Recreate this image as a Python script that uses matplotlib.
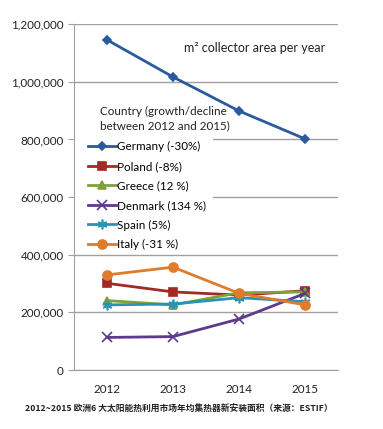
import matplotlib.pyplot as plt
from matplotlib.patches import Rectangle
import numpy as np

years = ['2012', '2013', '2014', '2015']
germany = [1146000, 1017000, 899000, 802000]
poland = [301000, 271000, 260000, 275000]
greece = [241000, 226000, 268000, 271000]
denmark = [113000, 116000, 177000, 266000]
spain = [226000, 229000, 251000, 237000]
italy = [330000, 357000, 266000, 226000]

labels = ['Germany (-30%)', 'Poland (-8%)', 'Greece (12 %)',
          'Denmark (134 %)', 'Spain (5%)', 'Italy (-31 %)']
series = [germany, poland, greece, denmark, spain, italy]
colors = ['#2a5a9e', '#a12a26', '#7da23a', '#5e3a8c', '#2a93b4', '#e07b2a']
markers = ['D', 's', '^', 'x', (6, 2, 0), 'o']
msizes = [4.5, 5.5, 6, 6.5, 7, 6.5]

plt.rcParams['font.family'] = ['Lato', 'DejaVu Sans']
fs = 8.4

fig = plt.figure(figsize=(3.83, 4.29), dpi=100)
ax = fig.add_axes([0.193, 0.1375, 0.69, 0.806])

x = np.arange(len(years))
for vals, lab, c, m, ms in zip(series, labels, colors, markers, msizes):
    ax.plot(x, vals, color=c, marker=m, markersize=ms, linewidth=2,
            markeredgewidth=1.2, label=lab, zorder=3)

ax.set_xlim(-0.5, 3.5)
ax.set_ylim(0, 1200000)
ax.set_yticks(np.arange(0, 1200001, 200000))
ax.set_yticklabels([f'{v:,}' for v in range(0, 1200001, 200000)])
ax.set_xticks(x)
ax.set_xticklabels(years)
ax.grid(axis='y', color='#a0a0a0', linewidth=1)
ax.set_axisbelow(True)
for s in ['top', 'right']:
    ax.spines[s].set_visible(False)
ax.spines['left'].set_color('#a0a0a0')
ax.spines['bottom'].set_color('#a0a0a0')
ax.tick_params(axis='y', colors='#a0a0a0', labelcolor='#222222', labelsize=fs, length=4)
ax.tick_params(axis='x', length=0, labelcolor='#222222', labelsize=fs, pad=10)

ax.text(0.415, 0.93, 'm² collector area per year', transform=ax.transAxes,
        fontsize=9, color='#222222', va='center')

# white legend box (covers gridlines behind title and entries)
ax.add_patch(Rectangle((0.005, 0.34), 0.52, 0.44, transform=ax.transAxes,
                       facecolor='white', edgecolor='none', zorder=1.5))

# legend title drawn separately so it can sit right of the handles
ax.text(0.1, 0.727, 'Country (growth/decline\nbetween 2012 and 2015)',
        transform=ax.transAxes, fontsize=fs, color='#222222', va='center',
        linespacing=1.45, zorder=4)

leg = ax.legend(loc='upper left', bbox_to_anchor=(0.045, 0.668), frameon=False,
                fontsize=fs, handlelength=2.4, handletextpad=0.1,
                labelspacing=0.73, borderaxespad=0, borderpad=0.2)
leg.set_zorder(4)

fig.text(0.065, 0.04, '2012~2015 欧洲6 大太阳能热利用市场年均集热器新安装面积（来源：ESTIF）',
         fontsize=6.3, fontstyle='italic', fontweight='bold', color='#222222',
         family=['Noto Sans CJK SC', 'DejaVu Sans'])

fig.savefig('out.png', dpi=100, facecolor='white')
